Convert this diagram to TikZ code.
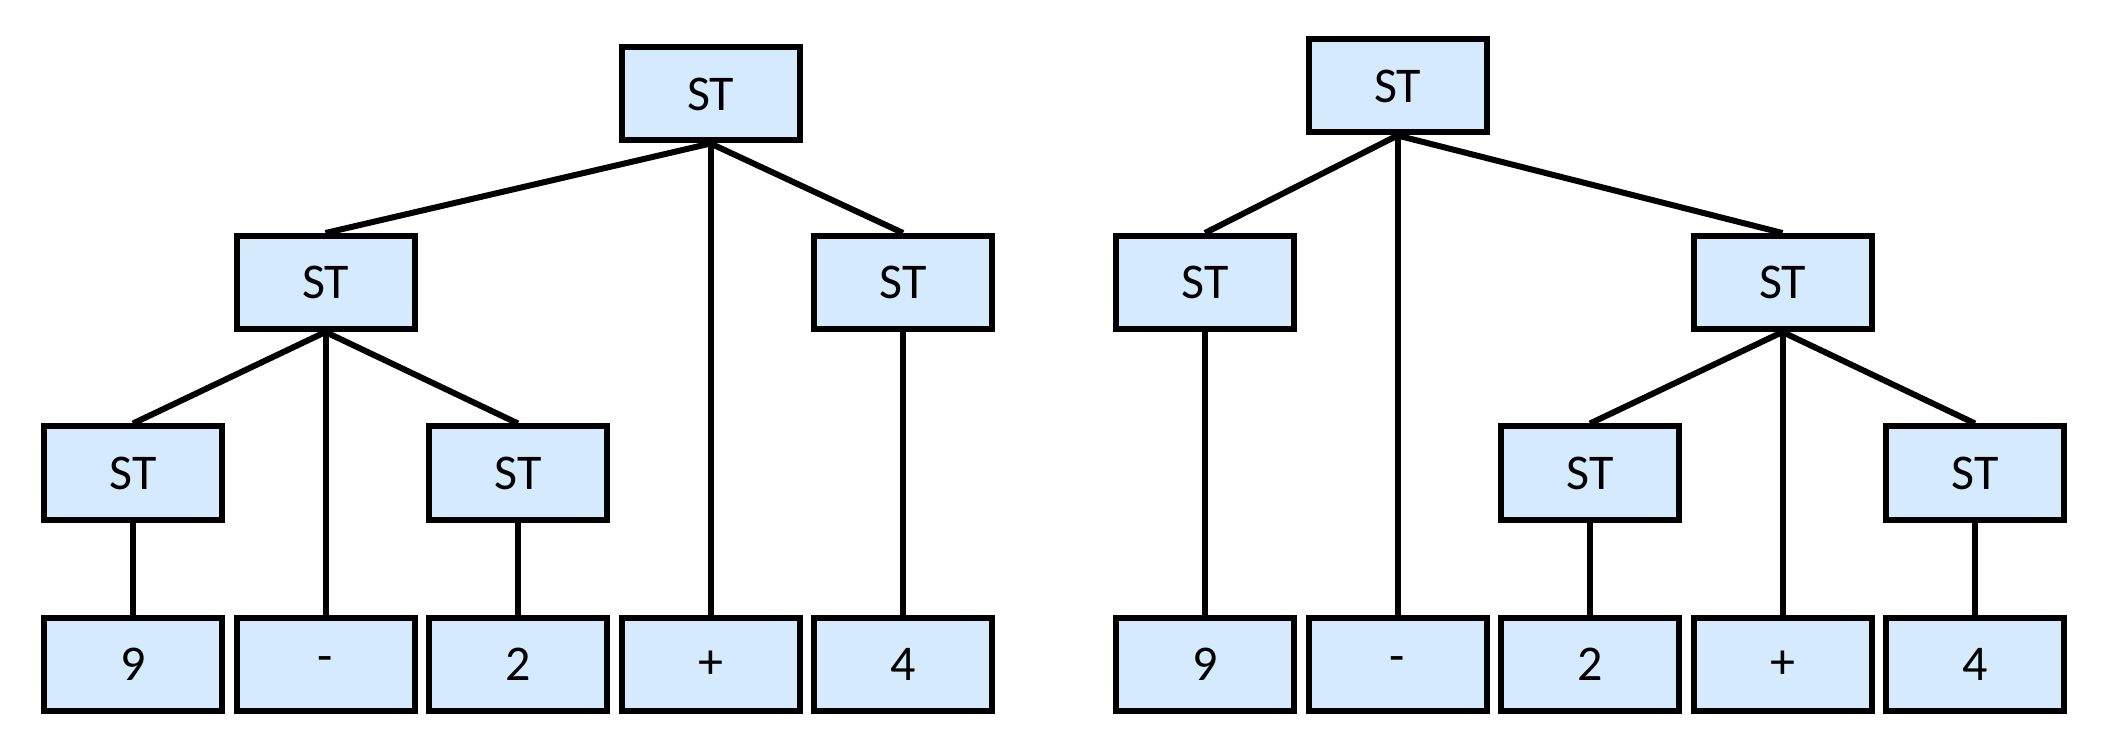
\documentclass[tikz,border=0pt]{standalone}
\usepackage{fontspec}
\setmainfont{Carlito}
\definecolor{boxfill}{RGB}{213,234,252}
\begin{document}
\begin{tikzpicture}[x=0.5pt,y=-0.5pt,
  tbox/.style={draw=black, fill=boxfill, line width=3pt, minimum width=89pt, minimum height=46.5pt, inner sep=0pt, font=\fontsize{25}{28}\selectfont},
  edge/.style={draw=black, line width=3pt}]
\useasboundingbox (0,0) rectangle (2122,754);
% ---- left tree ----
\node[tbox] (lr) at (710.5,94) {ST};
\node[tbox] (la) at (325.5,282.5) {ST};
\node[tbox] (lb) at (903,282.5) {ST};
\node[tbox] (laa) at (133,473) {ST};
\node[tbox] (lab) at (518,473) {ST};
\node[tbox] (l9) at (133,664.5) {9};
\node[tbox] (lm) at (325.5,664.5) {-};
\node[tbox] (l2) at (518,664.5) {2};
\node[tbox] (lp) at (710.5,664.5) {+};
\node[tbox] (l4) at (903,664.5) {4};
\draw[edge] (lr.south) -- (la.north);
\draw[edge] (lr.south) -- (lp.north);
\draw[edge] (lr.south) -- (lb.north);
\draw[edge] (la.south) -- (laa.north);
\draw[edge] (la.south) -- (lm.north);
\draw[edge] (la.south) -- (lab.north);
\draw[edge] (laa.south) -- (l9.north);
\draw[edge] (lab.south) -- (l2.north);
\draw[edge] (lb.south) -- (l4.north);
% ---- right tree ----
\node[tbox] (rr) at (1397.5,86) {ST};
\node[tbox] (ra) at (1205,282.5) {ST};
\node[tbox] (rb) at (1782.5,282.5) {ST};
\node[tbox] (rba) at (1590,473) {ST};
\node[tbox] (rbb) at (1975,473) {ST};
\node[tbox] (r9) at (1205,664.5) {9};
\node[tbox] (rm) at (1397.5,664.5) {-};
\node[tbox] (r2) at (1590,664.5) {2};
\node[tbox] (rp) at (1782.5,664.5) {+};
\node[tbox] (r4) at (1975,664.5) {4};
\draw[edge] (rr.south) -- (ra.north);
\draw[edge] (rr.south) -- (rm.north);
\draw[edge] (rr.south) -- (rb.north);
\draw[edge] (ra.south) -- (r9.north);
\draw[edge] (rb.south) -- (rba.north);
\draw[edge] (rb.south) -- (rp.north);
\draw[edge] (rb.south) -- (rbb.north);
\draw[edge] (rba.south) -- (r2.north);
\draw[edge] (rbb.south) -- (r4.north);
\end{tikzpicture}
\end{document}
